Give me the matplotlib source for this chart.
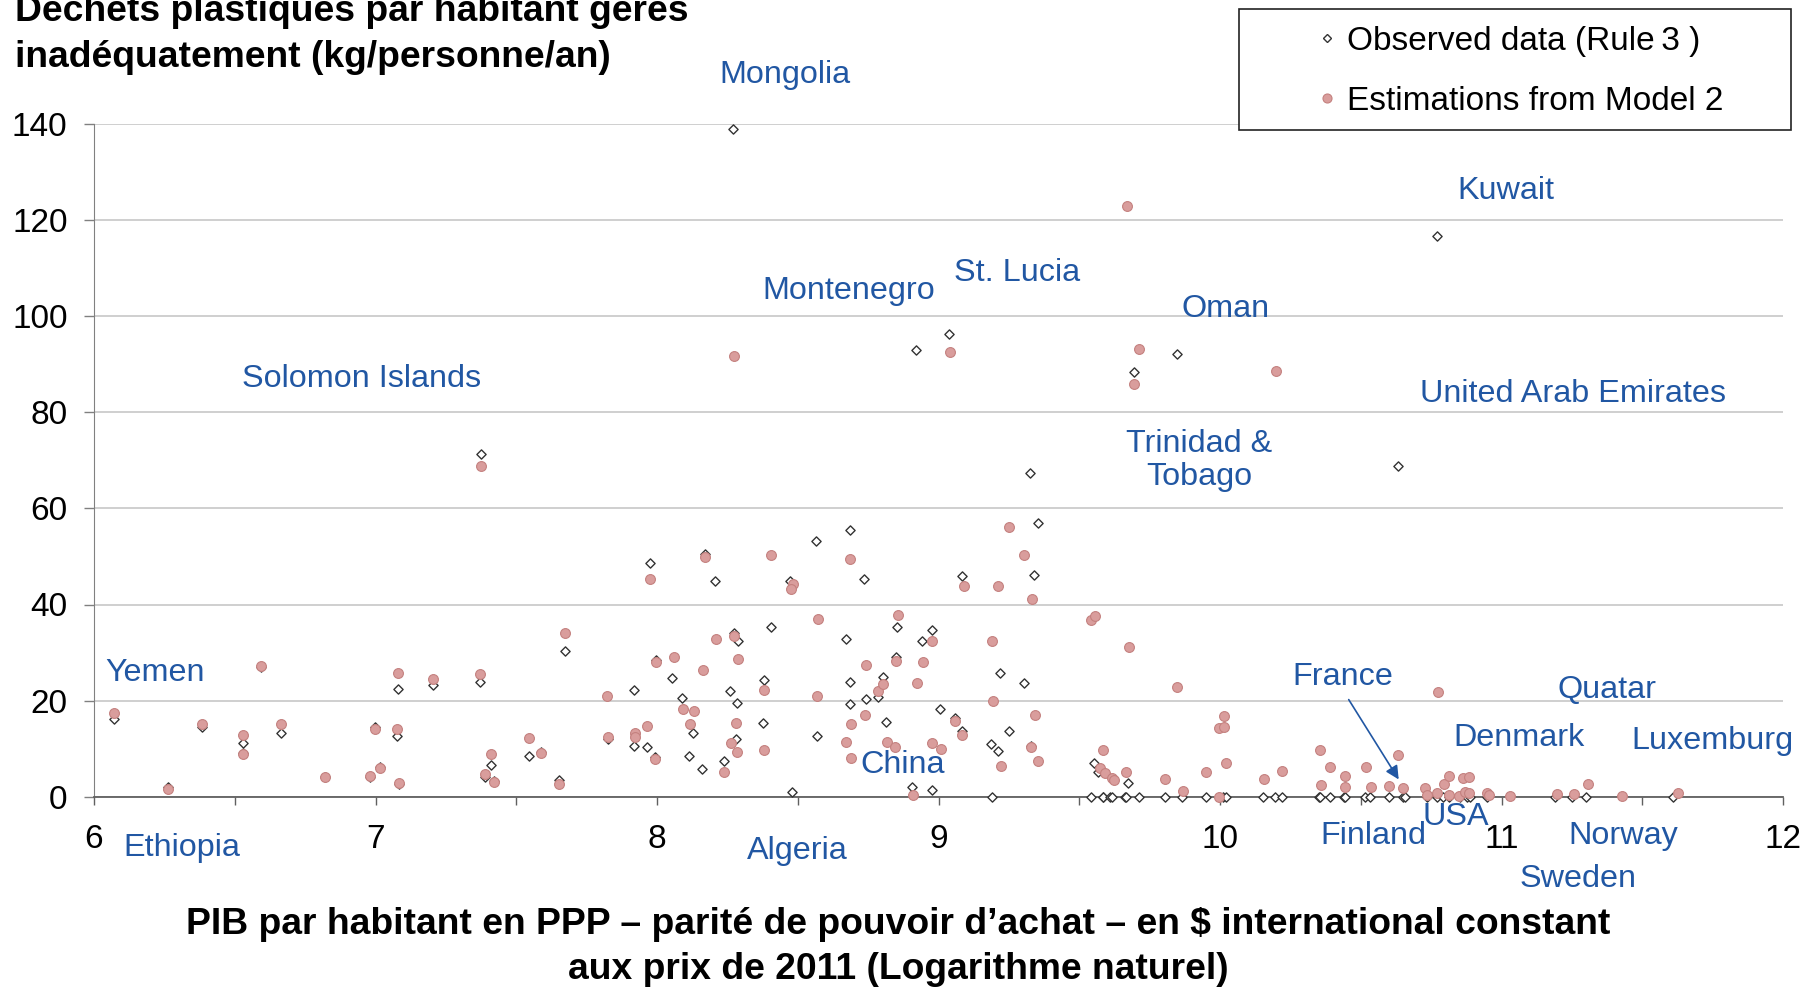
#!/usr/bin/env python3
"""Mismanaged plastic waste per capita vs. log GDP per capita (PPP)."""

import matplotlib.pyplot as plt
from matplotlib.lines import Line2D
from matplotlib.patches import Rectangle
from matplotlib.ticker import MultipleLocator

plt.rcParams["font.family"] = ["Liberation Sans", "DejaVu Sans"]

# Observed data (Rule 3): ln(GDP per capita PPP), kg/person/year
OBS_X = [
    6.07, 6.264, 6.384, 6.53, 6.53, 6.594, 6.663, 6.82, 6.997, 6.98,
    7.016, 7.08, 7.075, 7.083, 7.204, 7.372, 7.409, 7.39, 7.42, 7.545,
    7.375, 7.588, 7.652, 7.673, 7.826, 7.92, 7.92, 7.966, 7.975, 7.998,
    7.994, 8.055, 8.089, 8.128, 8.115, 8.161, 8.172, 8.206, 8.259, 8.279,
    8.237, 8.275, 8.286, 8.283, 8.271, 8.378, 8.381, 8.404, 8.472, 8.48,
    8.565, 8.568, 8.686, 8.736, 8.671, 8.686, 8.686, 8.741, 8.784, 8.804,
    8.814, 8.853, 8.85, 8.942, 8.976, 8.906, 8.976, 9.004, 8.92, 9.039,
    9.324, 9.352, 9.085, 9.338, 9.22, 9.302, 9.06, 9.083, 9.25, 9.187,
    9.21, 9.33, 9.19, 9.554, 9.566, 9.674, 9.693, 9.847, 10.631, 10.772,
    9.54, 9.583, 9.585, 9.611, 9.618, 9.663, 9.665, 9.712, 9.804, 9.866,
    9.95, 10.011, 10.02, 10.153, 10.195, 10.222, 10.352, 10.355, 10.39, 10.442,
    10.444, 10.515, 10.532, 10.6, 10.649, 10.656, 10.734, 10.77, 10.793, 10.813,
    10.852, 10.876, 10.888, 10.947, 11.19, 11.25, 11.3, 11.61,
]
OBS_Y = [
    16.1, 2.0, 14.6, 11.1, 9.0, 27.0, 13.3, 4.0, 14.6, 4.0,
    6.2, 22.4, 12.7, 2.7, 23.2, 23.8, 6.7, 4.1, 3.2, 8.4,
    71.4, 9.3, 3.5, 30.3, 12.0, 22.2, 10.6, 10.4, 48.7, 28.4,
    8.3, 24.8, 20.5, 13.3, 8.5, 5.8, 50.5, 44.8, 22.0, 12.1,
    7.4, 34.0, 32.5, 19.4, 138.9, 15.4, 24.3, 35.3, 44.8, 1.0,
    53.2, 12.6, 55.5, 45.4, 32.8, 23.8, 19.2, 20.3, 20.7, 25.0,
    15.6, 35.3, 29.1, 32.3, 34.7, 2.1, 1.3, 18.2, 93.0, 96.3,
    67.4, 56.9, 45.9, 46.1, 25.7, 23.6, 16.3, 13.7, 13.7, 10.9,
    9.6, 10.6, 0.0, 7.0, 5.2, 2.9, 88.3, 92.1, 68.9, 116.7,
    0, 0, 0, 0, 0, 0, 0, 0, 0, 0,
    0, 0, 0, 0, 0, 0, 0, 0, 0, 0,
    0, 0, 0, 0, 0, 0, 0, 0, 0, 0,
    0, 0, 0, 0, 0, 0, 0, 0,
]

# Estimations from Model 2
EST_X = [
    6.071, 6.264, 6.384, 6.53, 6.53, 6.594, 6.663, 6.82, 6.997, 6.98,
    7.016, 7.08, 7.075, 7.083, 7.204, 7.372, 7.409, 7.39, 7.42, 7.545,
    7.375, 7.588, 7.652, 7.673, 7.824, 7.826, 7.922, 7.922, 7.966, 7.975,
    7.998, 7.994, 8.06, 8.091, 8.117, 8.13, 8.163, 8.172, 8.208, 8.263,
    8.237, 8.275, 8.289, 8.282, 8.284, 8.274, 8.38, 8.381, 8.406, 8.482,
    8.475, 8.571, 8.567, 8.687, 8.688, 8.673, 8.688, 8.744, 8.74, 8.784,
    8.804, 8.816, 8.846, 8.855, 8.85, 8.922, 8.944, 8.978, 8.908, 8.978,
    9.008, 9.04, 9.252, 9.304, 9.09, 9.211, 9.333, 9.542, 9.557, 9.19,
    9.677, 9.849, 9.194, 9.342, 9.06, 9.083, 9.222, 9.33, 9.354, 9.586,
    9.572, 9.59, 9.615, 9.623, 9.665, 9.805, 9.867, 9.95, 10.013, 9.995,
    10.013, 10.02, 9.997, 10.157, 10.222, 10.355, 10.39, 10.358, 10.444, 10.444,
    10.52, 10.535, 10.6, 10.633, 10.651, 10.773, 10.73, 10.737, 10.77, 10.794,
    10.812, 10.812, 10.85, 10.862, 10.886, 10.872, 10.885, 10.95, 10.957, 11.03,
    11.197, 11.256, 11.307, 11.428, 11.627, 9.671, 9.714, 9.695, 10.198,
]
EST_Y = [
    17.4, 1.5, 15.1, 12.8, 8.9, 27.1, 15.1, 4.0, 14.1, 4.3,
    6.0, 25.7, 14.1, 2.9, 24.4, 25.5, 8.9, 4.7, 3.1, 12.2,
    68.8, 9.0, 2.6, 34.0, 21.0, 12.5, 13.2, 12.5, 14.8, 45.4,
    28.0, 7.8, 29.1, 18.2, 15.1, 17.9, 26.3, 49.8, 32.9, 11.1,
    5.2, 33.5, 28.7, 15.3, 9.2, 91.8, 9.7, 22.3, 50.2, 44.2,
    43.2, 36.9, 21.0, 49.5, 15.1, 11.3, 8.0, 27.5, 16.9, 21.9,
    23.5, 11.3, 10.3, 37.8, 28.2, 23.7, 28.0, 32.4, 0.3, 11.1,
    9.9, 92.6, 56.1, 50.2, 43.9, 43.9, 41.1, 36.8, 37.7, 32.4,
    31.2, 22.8, 20.0, 16.9, 15.8, 12.9, 6.4, 10.3, 7.5, 9.7,
    5.9, 4.9, 3.8, 3.5, 5.2, 3.6, 1.25, 5.2, 16.7, 14.3,
    14.6, 7.1, 0.0, 3.6, 5.4, 9.7, 6.1, 2.4, 4.3, 2.1,
    6.1, 2.0, 2.2, 8.7, 1.9, 21.7, 1.9, 0.3, 0.8, 2.6,
    4.3, 0.4, 0.1, 3.8, 4.1, 1.0, 0.8, 0.7, 0.3, 0.1,
    0.5, 0.6, 2.6, 0.1, 0.8, 122.9, 93.1, 85.9, 88.5,
]

COUNTRIES = [
    "Mongolia", "Montenegro", "St. Lucia", "Oman", "Kuwait",
    "United Arab Emirates", "Trinidad &\nTobago", "Solomon Islands", "Yemen",
    "Ethiopia", "Algeria", "China", "France", "Finland", "USA", "Denmark",
    "Quatar", "Luxemburg", "Norway", "Sweden",
]
COUNTRY_POS = [
    (8.455, 150.2), (8.682, 105.2), (9.28, 109.0), (10.019, 101.6), (11.017, 126.0),
    (11.254, 83.9), (9.927, 70.0), (6.95, 87.0), (6.218, 25.7),
    (6.312, -10.7), (8.5, -11.2), (8.872, 6.5), (10.438, 25.0), (10.544, -8.1),
    (10.838, -4.3), (11.061, 12.3), (11.374, 22.3), (11.748, 11.5), (11.433, -8.1),
    (11.272, -17.2),
]

BLUE = "#2157a3"
PINK = "#d99d9c"
PINK_EDGE = "#c4817f"
DIAMOND_EDGE = "#333333"
FS = 23.3


def main() -> None:
    fig = plt.figure(figsize=(18.05, 9.9), dpi=100)
    ax = fig.add_axes([94 / 1805, 1 - 796.7 / 990, (1783 - 94) / 1805, (796.7 - 124) / 990])

    ax.scatter(OBS_X, OBS_Y, marker="D", s=22, facecolor="white",
               edgecolor=DIAMOND_EDGE, linewidth=1.0, zorder=3, clip_on=False)
    ax.scatter(EST_X, EST_Y, marker="o", s=50, facecolor=PINK,
               edgecolor=PINK_EDGE, linewidth=0.8, zorder=4, clip_on=False)

    ax.set_xlim(6, 12)
    ax.set_ylim(0, 140)
    ax.xaxis.set_major_locator(MultipleLocator(1))
    ax.xaxis.set_minor_locator(MultipleLocator(0.5))
    ax.yaxis.set_major_locator(MultipleLocator(20))
    ax.grid(axis="y", color="#cccccc", linewidth=1.3)
    ax.set_axisbelow(True)
    for side in ["top", "right"]:
        ax.spines[side].set_visible(False)
    ax.spines["left"].set_color("#808080")
    ax.spines["bottom"].set_color("#606060")
    ax.spines["bottom"].set_linewidth(1.3)
    ax.tick_params(axis="y", direction="out", length=7, width=1, color="#808080",
                   labelsize=24, pad=12)
    ax.tick_params(axis="x", which="both", direction="out", length=6, width=1,
                   color="#606060", labelsize=24, pad=14)

    for name, (x, y) in zip(COUNTRIES, COUNTRY_POS):
        ax.text(x, y, name, color=BLUE, fontsize=FS, ha="center", va="center",
                linespacing=1.15, clip_on=False)
    ax.annotate("", xy=(10.64, 3.1), xytext=(10.452, 20.7),
                arrowprops=dict(arrowstyle="-|>", color=BLUE, lw=1.2, mutation_scale=20))

    # title (top line is cropped at the edge, as in the source) and axis caption
    fig.text(15 / 1805, 1 - 21 / 990, "Dechets plastiques par habitant geres",
             fontsize=26.8, fontweight="bold", va="baseline", ha="left")
    fig.text(15 / 1805, 1 - 67 / 990, "inadéquatement (kg/personne/an)",
             fontsize=26.8, fontweight="bold", va="baseline", ha="left")
    fig.text(898 / 1805, 1 - 934 / 990,
             "PIB par habitant en PPP \u2013 parité de pouvoir d\u2019achat \u2013 en $ international constant",
             fontsize=26.8, fontweight="bold", va="baseline", ha="center")
    fig.text(898 / 1805, 1 - 979 / 990, "aux prix de 2011 (Logarithme naturel)",
             fontsize=26.8, fontweight="bold", va="baseline", ha="center")

    # legend with square frame
    ax.add_patch(Rectangle((1238.5 / 1805, 1 - 130 / 990), 552.5 / 1805, 120.8 / 990,
                           transform=fig.transFigure, facecolor="white",
                           edgecolor="#222222", linewidth=1.2, zorder=5, clip_on=False))
    handles = [
        Line2D([0], [0], marker="D", linestyle="none", markersize=4.2,
               markerfacecolor="white", markeredgecolor=DIAMOND_EDGE, markeredgewidth=1.0),
        Line2D([0], [0], marker="o", linestyle="none", markersize=6.5,
               markerfacecolor=PINK, markeredgecolor=PINK_EDGE, markeredgewidth=0.8),
    ]
    leg = ax.legend(handles, ["Observed data (Rule\u20093 )", "Estimations from Model 2"],
                    loc="center left", bbox_to_anchor=(1304 / 1805, 1 - 71.5 / 990),
                    bbox_transform=fig.transFigure, frameon=False, fontsize=24,
                    handlelength=0.4, handletextpad=0.4, borderpad=0, labelspacing=0.88)
    leg.set_zorder(6)

    fig.savefig("out.png", dpi=100)
    plt.close(fig)


if __name__ == "__main__":
    main()
